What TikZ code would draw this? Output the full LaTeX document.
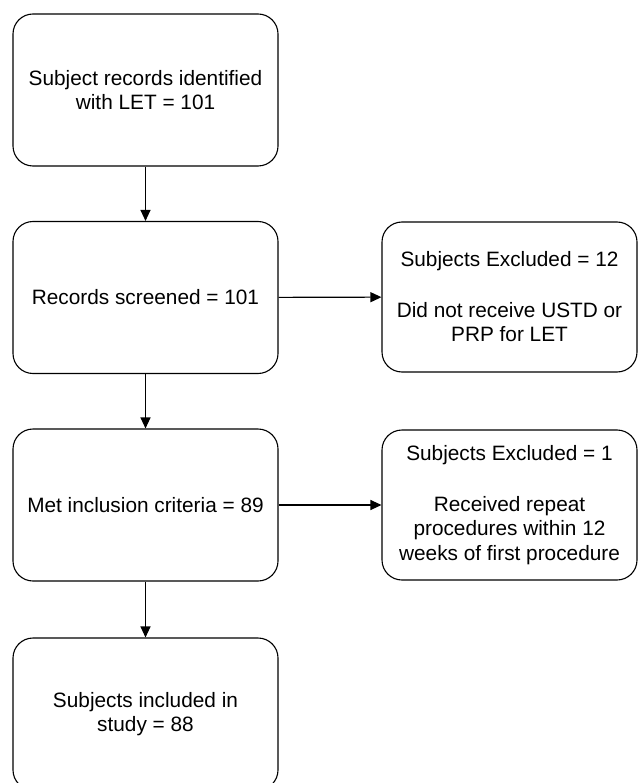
\documentclass[tikz,border=0pt]{standalone}
\usepackage{fontspec}
\setmainfont{Liberation Sans}
\usetikzlibrary{positioning}
\usetikzlibrary{arrows.meta}

\begin{document}
\begin{tikzpicture}[x=1pt, y=-1pt,
    blockbox/.style={draw, line width=1.1pt, rounded corners=20pt, align=center,
      font=\fontsize{20.8}{24.5}\selectfont, inner sep=0pt},
    leftbox/.style={blockbox, minimum width=265pt, minimum height=152pt},
    rightbox/.style={blockbox, minimum width=255pt, minimum height=150pt},
    flowarrow/.style={line width=1.1pt, -{Triangle[length=11pt, width=10pt]}}]
    \useasboundingbox (0,0) rectangle (638,783);
    \clip (0,0) rectangle (638,783);
    % main column
    \node[leftbox] (identified) at (145.5, 90) {Subject records identified\\with LET = 101};
    \node[leftbox] (screened) at (145.5, 297.5) {Records screened = 101};
    \node[leftbox] (criteria) at (145.5, 505) {Met inclusion criteria = 89};
    \node[leftbox] (included) at (145.5, 714) {Subjects included in\\study = 88};
    % exclusions
    \node[rightbox] (excludedA) at (509.5, 297) {Subjects Excluded = 12\\[26pt]Did not receive USTD or\\PRP for LET};
    \node[rightbox] (excludedB) at (509.5, 505) {Subjects Excluded = 1\\[26pt]Received repeat\\procedures within 12\\weeks of first procedure};
    \draw[flowarrow] (identified) -- (screened);
    \draw[flowarrow] (screened) -- (criteria);
    \draw[flowarrow] (criteria) -- (included);
    \draw[flowarrow] (screened) -- (excludedA);
    \draw[flowarrow] (criteria) -- (excludedB);
\end{tikzpicture}
\end{document}
